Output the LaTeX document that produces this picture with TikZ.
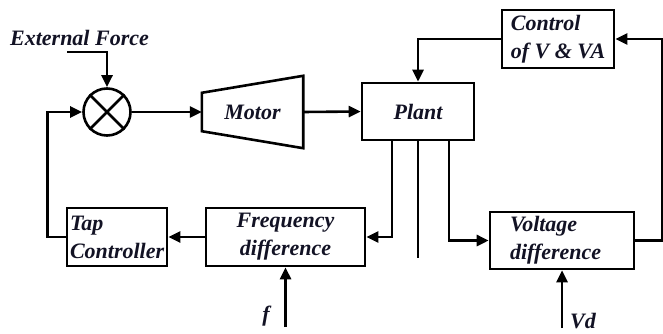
\documentclass[tikz,border=0pt]{standalone}
\usepackage{fontspec}
\setmainfont{Liberation Serif}
\usetikzlibrary{arrows.meta,positioning,calc}
\definecolor{inkdark}{RGB}{18,18,36}

\begin{document}
\begin{tikzpicture}[x=1pt,y=-1pt,
 thk/.style={draw=black,line width=2.6pt},
 blk/.style={thk,minimum height=58pt,inner sep=0pt,text=inkdark,
   font=\fontsize{22}{28}\selectfont\bfseries\itshape},
 lbl/.style={text=inkdark,inner sep=0pt,font=\fontsize{22}{28}\selectfont\bfseries\itshape},
 arr/.style={thk,-{Triangle[length=12pt,width=11pt]}}]
\useasboundingbox[fill=white] (0,0) rectangle (663,334);
\node[lbl] (ext) at (79.5,38) {External Force};
\coordinate (extin) at (67,52);
\node[thk,circle,minimum size=47pt,inner sep=0pt] (sum) at (107,112) {};
\draw[thk] (sum.north west)--(sum.south east) (sum.north east)--(sum.south west);
\node[lbl,minimum width=101pt,minimum height=72pt] (motor) at (252.5,112) {Motor};
\draw[thk,line join=miter] ($(motor.north west)+(0,17)$) -- (motor.north east)
  -- (motor.south east) -- ($(motor.south west)+(0,-17)$) -- cycle;
\node[blk,minimum width=112pt,minimum height=57pt] (plant) at (418,111.5) {Plant};
\node[blk,minimum width=112pt,align=left] (ctrl) at (558,39) {Control\\of V \& VA};
\node[blk,text width=94pt,inner xsep=3pt,align=left] (tap) at (117,237) {Tap\\Controller};
\node[blk,minimum width=159pt,align=center] (freq) at (285.5,237) {Frequency\\difference};
\node[blk,text width=104pt,inner xsep=20pt,minimum height=57pt,align=left] (volt) at (562,240.5) {Voltage\\difference};
\coordinate (fin) at (285.5,327);
\node[lbl] (flbl) at (266,316) {f};
\coordinate (vdin) at (562,328);
\node[lbl] (vdlbl) at (583,321) {Vd};
\draw[arr] (extin) -| (sum.north);
\draw[arr] (sum.east)--(motor.west);
\draw[arr] (motor.east)--(plant.west);
\draw[arr] (ctrl.west) -| (plant.north);
\draw[arr] ([xshift=-26pt]plant.south) |- (freq.east);
\draw[thk] (plant.south) -- ++(0,117);
\draw[arr] ([xshift=31pt]plant.south) |- (volt.west);
\draw[arr] (volt.east) -- ++(27,0) |- (ctrl.east);
\draw[arr] (freq.west)--(tap.east);
\draw[arr] (tap.west) -- ++(-18,0) |- (sum.west);
\draw[arr] (fin)--(freq.south);
\draw[arr] (vdin)--(volt.south);
\end{tikzpicture}
\end{document}
